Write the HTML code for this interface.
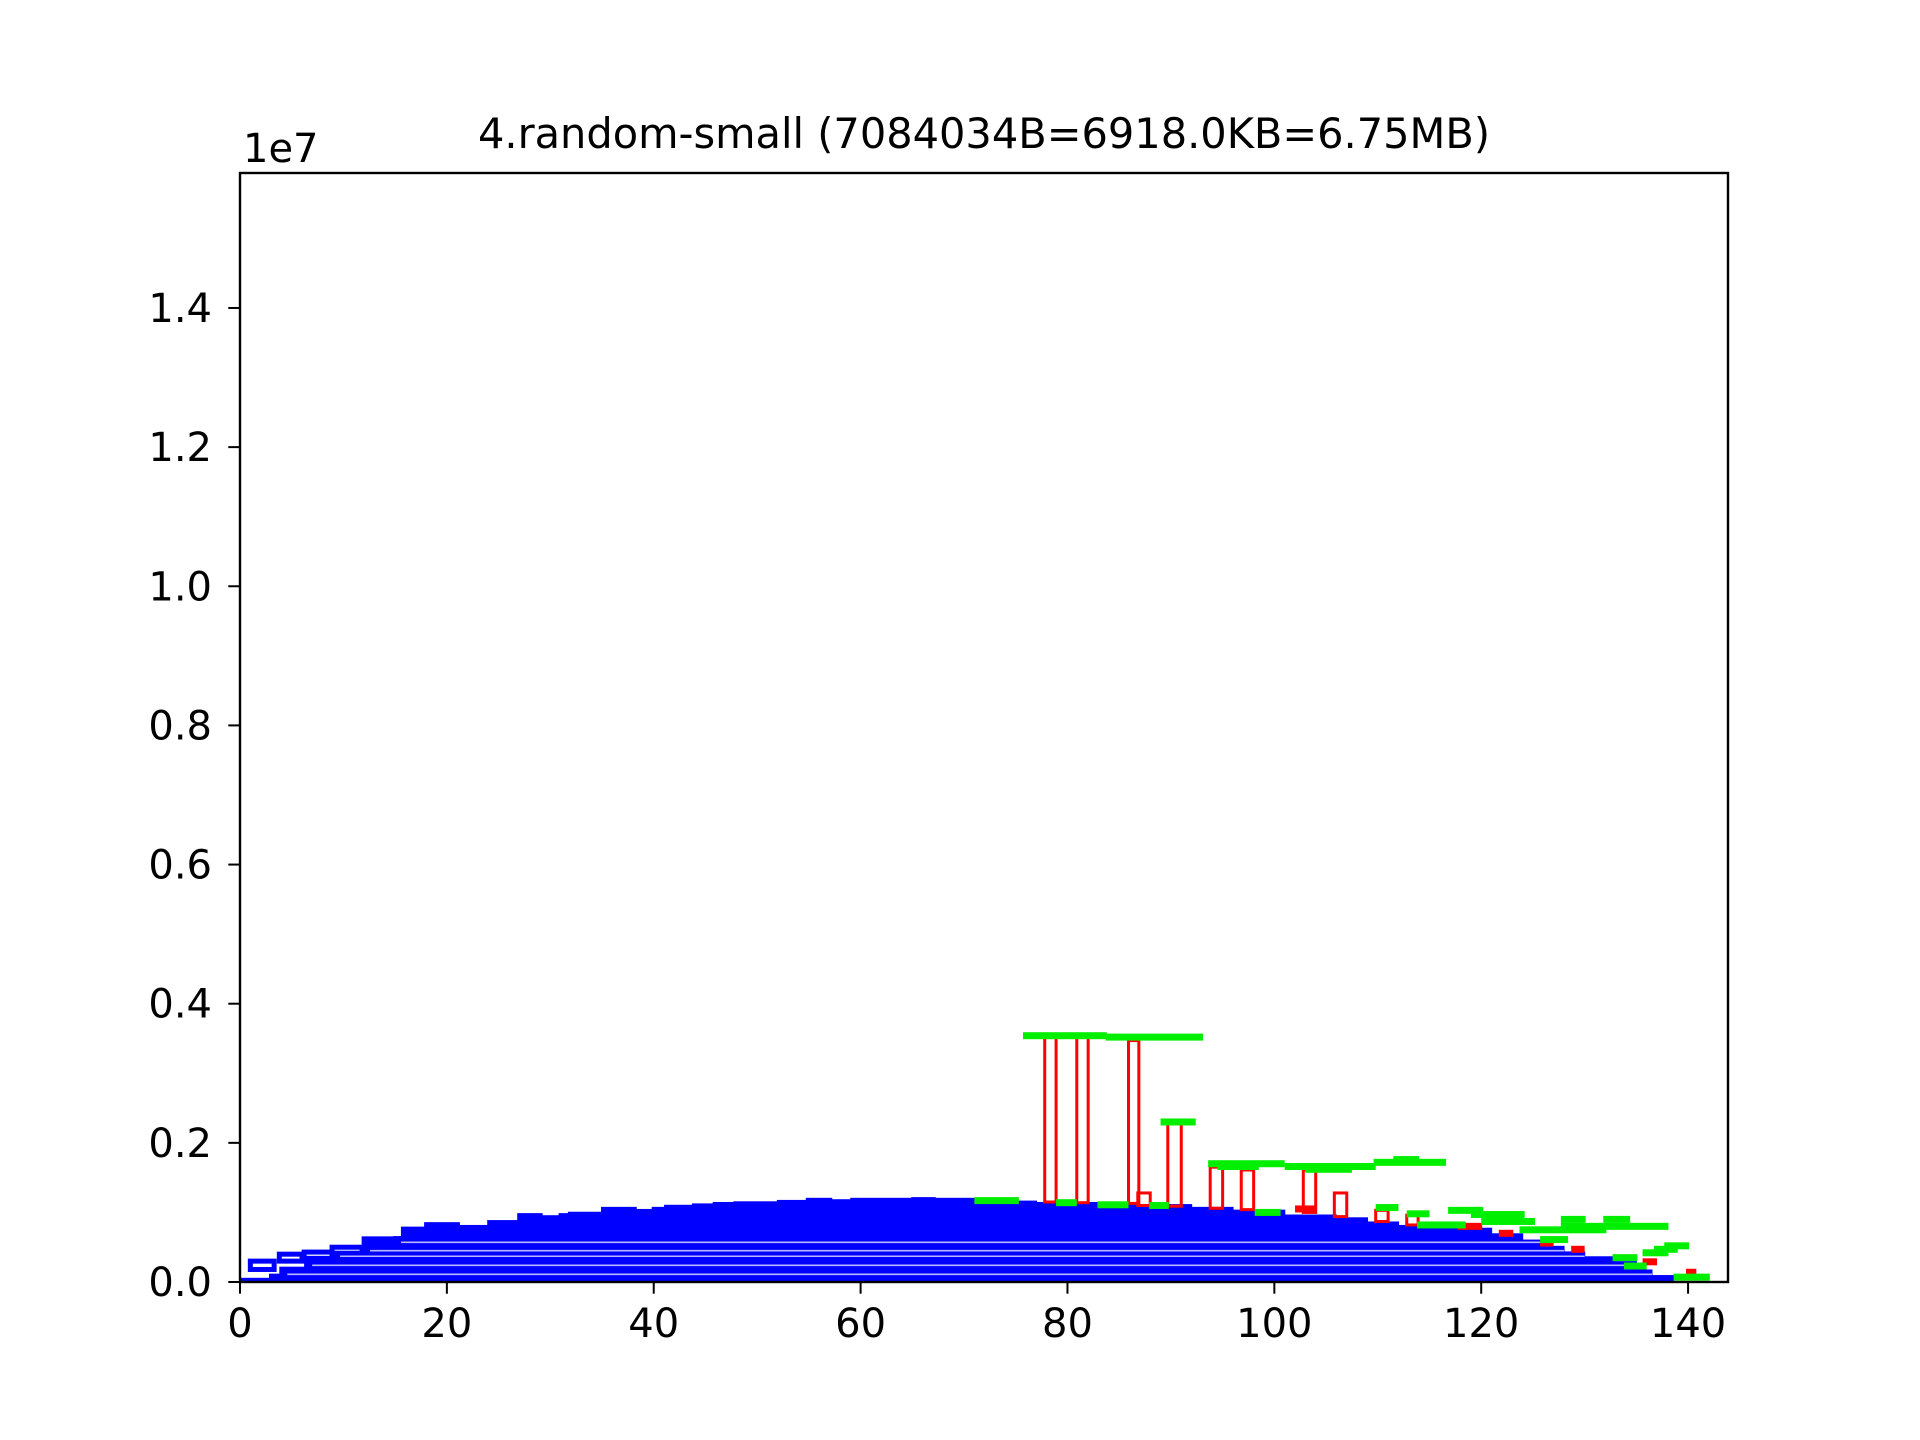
<!DOCTYPE html>
<html><head><meta charset="utf-8">
<style>
html,body{margin:0;padding:0;background:#fff;}
svg{display:block;}
text{font-family:"DejaVu Sans","Liberation Sans",sans-serif;fill:#000;}
</style></head>
<body>
<svg id="chart" width="1920" height="1440" viewBox="0 0 1920 1440" xmlns="http://www.w3.org/2000/svg">
<rect width="1920" height="1440" fill="#fff"/>
<text x="984" y="148" font-size="41.5" text-anchor="middle">4.random-small (7084034B=6918.0KB=6.75MB)</text>
<text x="243" y="162" font-size="40">1e7</text>
<g id="plot"></g>
<g id="axes"></g>
</svg>
<script>
// data (x in units, y in 1e6)
const blueX0 = [0, 2.8, 3.8, 6.2, 8.9, 11.8, 14.8, 15.8, 17.8, 21.2, 23.9, 26.8, 29.2, 30.8, 31.7, 34.9, 38.3, 39.8, 41, 43.7, 45.7, 47.7, 51.9, 54.7, 57.2, 59, 64.9, 67.2, 71.1, 77, 86, 92, 96, 101, 106, 109, 112, 116, 121, 124, 126, 128, 130, 133, 135, 136.5];
const blueX1 = [2.8, 3.8, 6.2, 8.9, 11.8, 14.8, 15.8, 17.8, 21.2, 23.9, 26.8, 29.2, 30.8, 31.7, 34.9, 38.3, 39.8, 41, 43.7, 45.7, 47.7, 51.9, 54.7, 57.2, 59, 64.9, 67.2, 71.1, 77, 86, 92, 96, 101, 106, 109, 112, 116, 121, 124, 126, 128, 130, 133, 135, 136.5, 138.6];
const blueTop = [0.06, 0.12, 0.22, 0.36, 0.45, 0.6, 0.66, 0.76, 0.86, 0.82, 0.89, 0.99, 0.96, 0.99, 1.01, 1.08, 1.05, 1.08, 1.11, 1.13, 1.15, 1.16, 1.18, 1.21, 1.19, 1.21, 1.22, 1.21, 1.17, 1.15, 1.12, 1.08, 1.04, 0.97, 0.93, 0.87, 0.82, 0.78, 0.7, 0.61, 0.52, 0.44, 0.37, 0.3, 0.18, 0.1];
const boxX0 = [1.0, 3.8, 6.2, 8.9, 12.0, 15.8];
const boxX1 = [3.3, 6.0, 8.9, 11.8, 14.8, 18.5];
const boxBottom = [0.18, 0.30, 0.34, 0.40, 0.55, 0.66];
const boxTop = [0.30, 0.40, 0.43, 0.50, 0.62, 0.76];
const stripeLevels = [0.11, 0.24, 0.37, 0.45, 0.57];
const redX0 = [77.8, 80.9, 85.9, 86.8, 89.7, 93.8, 96.8, 102.8, 105.8, 109.8, 112.8];
const redX1 = [78.9, 82.0, 86.9, 88.0, 91.0, 95.0, 98.0, 104.0, 107.0, 111.0, 113.9];
const redBottom = [1.15, 1.14, 1.13, 1.10, 1.09, 1.06, 1.04, 1.0, 0.94, 0.87, 0.82];
const redTop = [3.52, 3.52, 3.47, 1.28, 2.30, 1.65, 1.61, 1.61, 1.28, 1.03, 0.96];
const redFillX0 = [102, 117.7, 121.7, 125.7, 128.7, 135.6, 139.8];
const redFillX1 = [104, 120.1, 123.1, 127.0, 130.0, 137.0, 140.8];
const redFillY = [1.05, 0.80, 0.70, 0.56, 0.47, 0.29, 0.14];
const greenX0 = [75.7, 83.7, 71, 78.9, 82.9, 87.9, 89, 93.6, 94.5, 101, 103, 109.6, 111.5, 98.1, 109.8, 112.8, 113.8, 116.8, 119, 120, 123.7, 125.7, 127.7, 127.7, 131.8, 132.7, 133.8, 135.6, 136.7, 137.7, 138.6];
const greenX1 = [83.8, 93.1, 75.3, 80.9, 85.9, 89.8, 92.4, 101, 98.5, 109.8, 107.5, 116.6, 114, 100.6, 112, 115, 118.5, 120.2, 124.2, 125.2, 132.1, 128.4, 130.1, 138.1, 134.4, 135.1, 136, 138.1, 139, 140.1, 142.1];
const greenY = [3.54, 3.52, 1.17, 1.14, 1.11, 1.10, 2.30, 1.70, 1.66, 1.66, 1.62, 1.72, 1.76, 1.00, 1.07, 0.98, 0.82, 1.03, 0.97, 0.87, 0.75, 0.61, 0.90, 0.80, 0.90, 0.35, 0.23, 0.42, 0.47, 0.52, 0.07];
const xTicks = [0, 20, 40, 60, 80, 100, 120, 140];
const xTickLabels = ["0", "20", "40", "60", "80", "100", "120", "140"];
const yTicks = [0, 2, 4, 6, 8, 10, 12, 14];
const yTickLabels = ["0.0", "0.2", "0.4", "0.6", "0.8", "1.0", "1.2", "1.4"];

const L = 240, R = 1728, T = 173, B = 1282;
const XMAX = 143.86, YMAX = 15.94;
function sx(v) { return L + v / XMAX * (R - L); }
function sy(v) { return B - v / YMAX * (B - T); }
const NS = "http://www.w3.org/2000/svg";
function mk(tag, attrs, parent) {
  const e = document.createElementNS(NS, tag);
  for (const k in attrs) e.setAttribute(k, attrs[k]);
  parent.appendChild(e);
  return e;
}
const plot = document.getElementById('plot');
const axes = document.getElementById('axes');

for (let i = 0; i < blueTop.length; i++) {
  const r = mk('rect', {x: sx(blueX0[i]), y: sy(blueTop[i]), width: sx(blueX1[i]) - sx(blueX0[i]) + 0.6, height: B - sy(blueTop[i]), fill: '#0000ff'}, plot);
  
  
}
for (let i = 0; i < boxTop.length; i++) {
  const r = mk('rect', {x: sx(boxX0[i]), y: sy(boxTop[i]), width: sx(boxX1[i]) - sx(boxX0[i]), height: sy(boxBottom[i]) - sy(boxTop[i]), fill: 'none', stroke: '#0000ff', 'stroke-width': 5}, plot);
  
  
}
for (let j = 0; j < stripeLevels.length; j++) {
  const lv = stripeLevels[j];
  let first = -1, last = -1;
  for (let i = 0; i < blueTop.length; i++) {
    if (blueTop[i] > lv + 0.03) { if (first < 0) first = i; last = i; }
  }
  if (first < 0) continue;
  const ln = mk('line', {x1: sx(blueX0[first]) + 8, x2: sx(blueX1[last]), y1: sy(lv), y2: sy(lv), stroke: '#b8b8ff', 'stroke-width': 1.6}, plot);
  
  
}
for (let i = 0; i < redFillY.length; i++) {
  const r = mk('rect', {x: sx(redFillX0[i]), y: sy(redFillY[i]) - 3.5, width: sx(redFillX1[i]) - sx(redFillX0[i]), height: 7, fill: '#ff0000'}, plot);
  
  
}
for (let i = 0; i < redTop.length; i++) {
  const r = mk('rect', {x: sx(redX0[i]), y: sy(redTop[i]), width: sx(redX1[i]) - sx(redX0[i]), height: sy(redBottom[i]) - sy(redTop[i]), fill: 'none', stroke: '#ff0000', 'stroke-width': 3}, plot);
  
  
}
for (let i = 0; i < greenY.length; i++) {
  const r = mk('rect', {x: sx(greenX0[i]), y: sy(greenY[i]) - 3.5, width: sx(greenX1[i]) - sx(greenX0[i]), height: 7, fill: '#00ee00'}, plot);
  
  
}
// frame
const fr = mk('rect', {x: L, y: T, width: R - L, height: B - T, fill: 'none', stroke: '#000', 'stroke-width': 2.4}, axes);


for (let i = 0; i < xTicks.length; i++) {
  const x = sx(xTicks[i]);
  const t = mk('line', {x1: x, x2: x, y1: B, y2: B + 11.7, stroke: '#000', 'stroke-width': 2}, axes);
  
  
  const lb = mk('text', {x: x, y: B + 55, 'font-size': 40, 'text-anchor': 'middle'}, axes);
  lb.textContent = xTickLabels[i];
  
  
}
for (let i = 0; i < yTicks.length; i++) {
  const y = sy(yTicks[i]);
  const t = mk('line', {x1: L - 11.7, x2: L, y1: y, y2: y, stroke: '#000', 'stroke-width': 2}, axes);
  
  
  const lb = mk('text', {x: L - 28, y: y + 14, 'font-size': 40, 'text-anchor': 'end'}, axes);
  lb.textContent = yTickLabels[i];
  
  
}
</script>
</body></html>
